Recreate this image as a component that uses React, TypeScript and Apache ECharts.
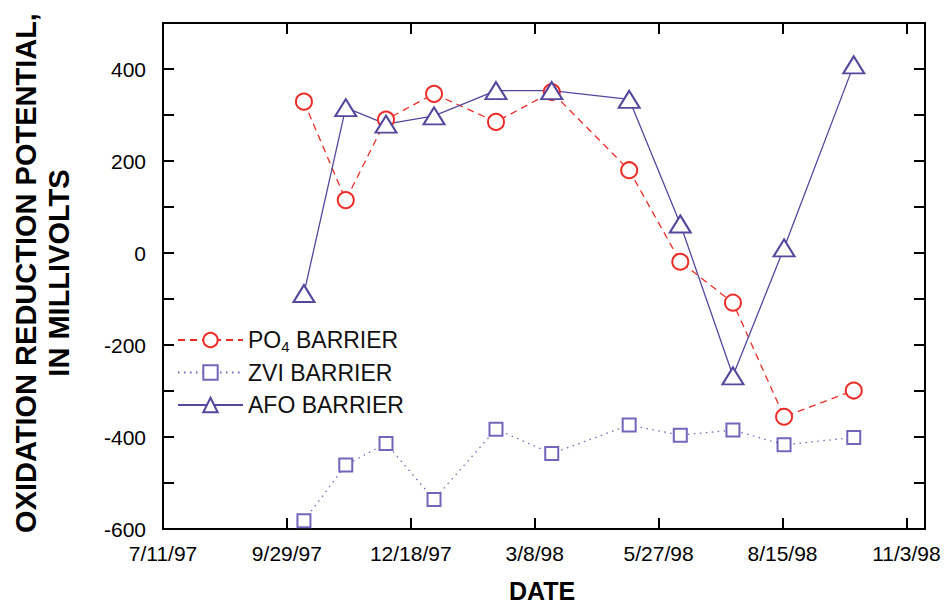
import React, { useEffect, useRef } from "react";
import * as echarts from "echarts";

const sampleDates = ["10/10/97", "11/6/97", "12/2/97", "1/2/98", "2/11/98", "3/19/98", "5/8/98", "6/10/98", "7/14/98", "8/16/98", "9/30/98"];
const po4Values = [329, 115, 290, 346, 285, 350, 180, -19, -108, -356, -299];
const zviValues = [-582, -461, -414, -536, -383, -436, -374, -396, -385, -417, -401];
const afoValues = [-88, 316, 280, 298, 353, 353, 334, 63, -267, 11, 409];
const seriesNames = ["PO4 BARRIER", "ZVI BARRIER", "AFO BARRIER"];

const BASE = Date.UTC(1997, 6, 11);
const DAY = 86400000;
function dayOf(s: string): number {
  const [m, d, y] = s.split("/").map(Number);
  return Math.round((Date.UTC(1900 + y, m - 1, d) - BASE) / DAY);
}
function dateLabel(v: number): string {
  const dt = new Date(BASE + v * DAY);
  return `${dt.getUTCMonth() + 1}/${dt.getUTCDate()}/${String(dt.getUTCFullYear()).slice(2)}`;
}

const RED = "#ec2d27";
const BLUE = "#54479c";
const PURPLE = "#7465bb";
const FONT = "'Liberation Sans', Arial, Helvetica, sans-serif";

export default function App() {
  const ref = useRef<HTMLDivElement>(null);
  useEffect(() => {
    if (!ref.current) return;
    const chart = echarts.init(ref.current, null, { renderer: "svg" });
    const xs = sampleDates.map(dayOf);
    const axisBase = {
      axisLine: { show: true, onZero: false, lineStyle: { color: "#000", width: 2 } },
      axisTick: { show: true, inside: true, length: 11, lineStyle: { color: "#000", width: 2 } },
      splitLine: { show: false },
    };
    chart.setOption({
      animation: false,
      backgroundColor: "#fff",
      grid: { left: 163, right: 20, top: 23, bottom: 75, containLabel: false },
      xAxis: [
        {
          ...axisBase,
          type: "value",
          min: 0,
          max: 492,
          interval: 80,
          position: "bottom",
          axisLabel: {
            color: "#000",
            fontSize: 21,
            fontFamily: FONT,
            margin: 14,
            formatter: (v: number) => (v % 80 === 0 ? dateLabel(v) : ""),
          },
        },
        {
          ...axisBase,
          type: "value",
          min: 0,
          max: 492,
          interval: 80,
          position: "top",
          axisLabel: { show: false },
        },
      ],
      yAxis: [
        {
          ...axisBase,
          type: "value",
          min: -600,
          max: 500,
          interval: 100,
          position: "left",
          axisLabel: {
            color: "#000",
            fontSize: 21,
            fontFamily: FONT,
            margin: 17,
            formatter: (v: number) => (v % 200 === 0 ? String(v) : ""),
          },
        },
        {
          ...axisBase,
          type: "value",
          min: -600,
          max: 500,
          interval: 100,
          position: "right",
          axisLabel: { show: false },
        },
      ],
      legend: {
        orient: "vertical",
        left: 172,
        top: 321,
        itemWidth: 65,
        itemHeight: 18,
        itemGap: 4.5,
        data: seriesNames,
        textStyle: {
          color: "#111",
          fontSize: 23,
          fontFamily: FONT,
          lineHeight: 28,
          rich: {
            m: { fontSize: 23, fontFamily: FONT, color: "#111", lineHeight: 28 },
            s: { fontSize: 15, fontFamily: FONT, color: "#111", padding: [13, 0, 0, 0], lineHeight: 28 },
          },
        },
        formatter: (name: string) =>
          name === "PO4 BARRIER" ? "{m|PO}{s|4}{m| BARRIER}" : `{m|${name}}`,
      },
      graphic: [
        {
          type: "text",
          x: 42,
          y: 273,
          rotation: Math.PI / 2,
          style: {
            text: "OXIDATION REDUCTION POTENTIAL,\nIN MILLIVOLTS",
            fontSize: 29,
            fontWeight: "bold",
            fontFamily: FONT,
            fill: "#000",
            align: "center",
            verticalAlign: "middle",
            lineHeight: 33,
          },
        },
        {
          type: "text",
          x: 542,
          y: 591,
          style: {
            text: "DATE",
            fontSize: 25,
            fontWeight: "bold",
            fontFamily: FONT,
            fill: "#000",
            align: "center",
            verticalAlign: "middle",
          },
        },
      ],
      series: [
        {
          name: seriesNames[0],
          type: "line",
          data: xs.map((x, i) => [x, po4Values[i]]),
          symbol: "circle",
          symbolSize: 16,
          itemStyle: { color: "#fff", borderColor: RED, borderWidth: 2 },
          lineStyle: { color: RED, width: 1.3, type: [7, 5] },
        },
        {
          name: seriesNames[1],
          type: "line",
          data: xs.map((x, i) => [x, zviValues[i]]),
          symbol: "rect",
          symbolSize: 13,
          itemStyle: { color: "#fff", borderColor: PURPLE, borderWidth: 2 },
          lineStyle: { color: PURPLE, width: 1.3, type: [1.5, 4.5] },
        },
        {
          name: seriesNames[2],
          type: "line",
          data: xs.map((x, i) => [x, afoValues[i]]),
          symbol: "triangle",
          symbolSize: [21, 17],
          itemStyle: { color: "#fff", borderColor: BLUE, borderWidth: 2 },
          lineStyle: { color: BLUE, width: 1.3 },
        },
      ],
    });
    return () => chart.dispose();
  }, []);
  return (
    <div
      ref={ref}
      style={{ position: "fixed", left: 0, top: 0, width: 945, height: 604, background: "#fff" }}
    />
  );
}
